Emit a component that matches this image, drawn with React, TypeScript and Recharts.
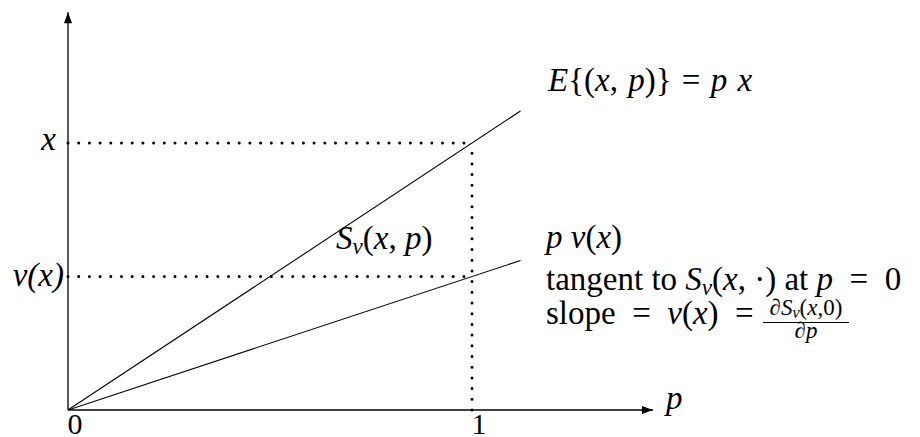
import { Line, LineChart, ReferenceDot, ReferenceLine, XAxis, YAxis } from "recharts";

// p on the horizontal axis, value on the vertical axis (x normalised to 1)
const pValues = [0, 1.12];
const expectedValues = [0, 1.12]; // E{(x,p)} = p x
const tangentValues = [0, 0.56]; // p v(x)
const xTicks = [0, 1];
const xTickLabels = ["0", "1"];
const yTicks = [0.5, 1];
const yTickLabels = ["v(x)", "x"];
const xMax = 1.448;
const yMax = 1.49;
const vx = 0.5;

const data = pValues.map((p, i) => ({ p, expected: expectedValues[i], tangent: tangentValues[i] }));

const FONT = "Liberation Serif";
const SIZE = 33;

function XTick({ x, y, payload }: any) {
  const i = xTicks.indexOf(payload.value);
  return (
    <text x={x + 7} y={y} dy={16} textAnchor="middle" fontFamily={FONT} fontSize={30} fill="#000">
      {xTickLabels[i]}
    </text>
  );
}

function YTick({ x, y, payload }: any) {
  const i = yTicks.indexOf(payload.value);
  const label = yTickLabels[i];
  return (
    <text
      x={label === "x" ? x - 4 : x + 4}
      y={y}
      dy={label === "x" ? 7 : 9}
      textAnchor="end"
      fontFamily={FONT}
      fontSize={SIZE}
      fontStyle="italic"
      fill="#000"
    >
      {label}
    </text>
  );
}

const upArrow = ({ cx, cy }: any) => <polygon points={`${cx},${cy} ${cx - 4},${cy + 11} ${cx + 4},${cy + 11}`} fill="#000" />;
const rightArrow = ({ cx, cy }: any) => <polygon points={`${cx},${cy} ${cx - 11},${cy - 4} ${cx - 11},${cy + 4}`} fill="#000" />;

const dotted = { stroke: "#000", strokeWidth: 3, strokeDasharray: "0 10.7", strokeLinecap: "round" as const };

// baseline sits about 0.8375em below the top of a line-height:1 box in Liberation Serif
function Label({ left, baseline, size = SIZE, width, wordSpacing = 0, children }: any) {
  return (
    <div
      style={{
        position: "absolute",
        left,
        top: baseline - 0.8375 * size,
        width,
        textAlign: width ? "center" : "left",
        fontFamily: FONT,
        fontSize: size,
        lineHeight: 1,
        whiteSpace: "pre",
        wordSpacing,
        color: "#000",
      }}
    >
      {children}
    </div>
  );
}

const I = ({ children }: any) => <i>{children}</i>;
const Sub = ({ children }: any) => (
  <span style={{ fontSize: "0.7em", fontStyle: "italic", position: "relative", top: "0.22em" }}>{children}</span>
);

function Annotations() {
  return (
    <div style={{ position: "absolute", left: 0, top: 0, width: 920, height: 437, pointerEvents: "none" }}>
      <Label left={548} baseline={92} wordSpacing={2}>
        <I>E</I>
        {"{("}
        <I>x</I>, <I>p</I>
        {")} = "}
        <I>p x</I>
      </Label>
      <Label left={336} baseline={250}>
        <I>S</I>
        <Sub>v</Sub>(<I>x</I>, <I>p</I>)
      </Label>
      <Label left={546} baseline={249}>
        <I>p v</I>(<I>x</I>)
      </Label>
      <Label left={546} baseline={291}>
        {"tangent to "}
        <I>S</I>
        <Sub>v</Sub>(<I>x</I>
        {", ·) at "}
        <I>p</I>
        {"  =  0"}
      </Label>
      <Label left={546} baseline={325}>
        {"slope  =  "}
        <I>v</I>(<I>x</I>
        {")  ="}
      </Label>
      <Label left={763} width={86} baseline={315} size={23}>
        <I>∂S</I>
        <Sub>v</Sub>(<I>x</I>,0)
      </Label>
      <div style={{ position: "absolute", left: 763, top: 321.5, width: 86, borderTop: "1px solid #000" }} />
      <Label left={763} width={86} baseline={338} size={23}>
        <I>∂p</I>
      </Label>
      <Label left={666} baseline={410}>
        <I>p</I>
      </Label>
    </div>
  );
}

export default function App() {
  return (
    <div style={{ position: "absolute", left: 0, top: 0, width: 920, height: 437, background: "#fff" }}>
      <LineChart width={920} height={437} data={data} margin={{ top: 12.2, right: 267, bottom: 0, left: 0 }}>
        <XAxis
          type="number"
          dataKey="p"
          domain={[0, xMax]}
          ticks={xTicks}
          tick={<XTick />}
          tickLine={false}
          height={27}
          axisLine={{ stroke: "#000", strokeWidth: 1.3 }}
          allowDataOverflow
        />
        <YAxis
          type="number"
          domain={[0, yMax]}
          ticks={yTicks}
          tick={<YTick />}
          tickLine={false}
          width={68}
          axisLine={{ stroke: "#000", strokeWidth: 1.3 }}
          allowDataOverflow
        />
        <ReferenceLine segment={[{ x: 0, y: 1 }, { x: 1, y: 1 }]} {...dotted} />
        <ReferenceLine segment={[{ x: 0, y: vx }, { x: 1, y: vx }]} {...dotted} />
        <ReferenceLine segment={[{ x: 1, y: 0 }, { x: 1, y: 1 }]} {...dotted} />
        <Line dataKey="expected" stroke="#000" strokeWidth={1.1} dot={false} isAnimationActive={false} />
        <Line dataKey="tangent" stroke="#000" strokeWidth={1.1} dot={false} isAnimationActive={false} />
        <ReferenceDot x={0} y={yMax} shape={upArrow} />
        <ReferenceDot x={xMax} y={0} shape={rightArrow} />
      </LineChart>
      <Annotations />
    </div>
  );
}
